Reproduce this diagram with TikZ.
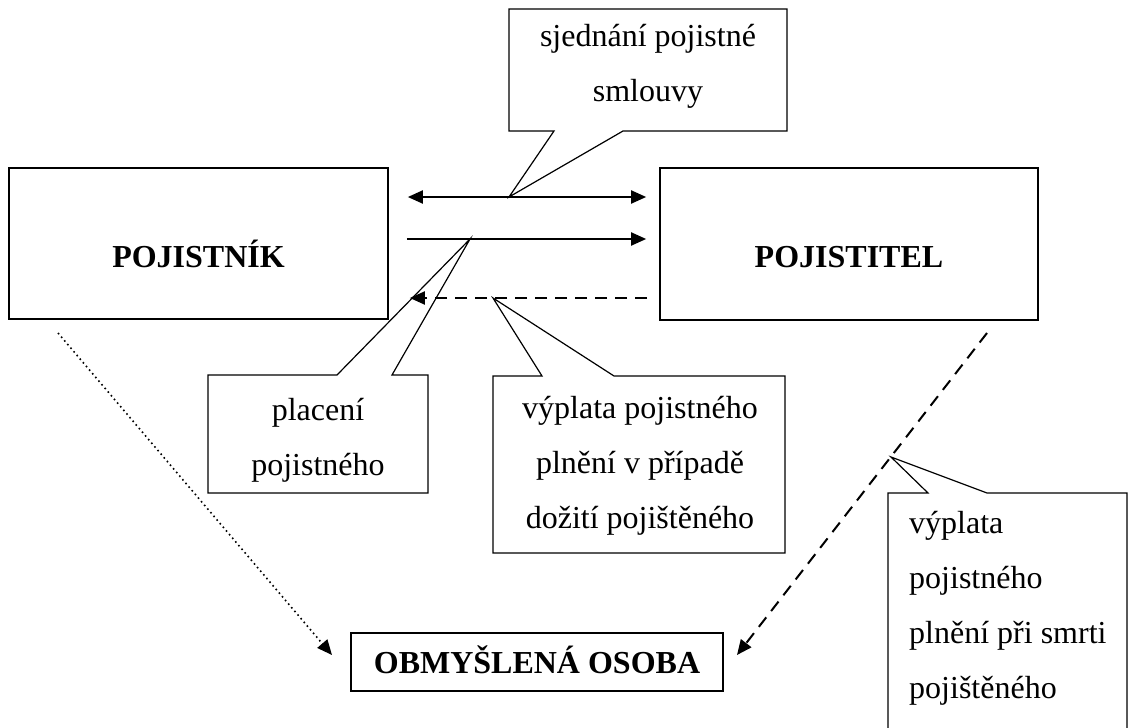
\documentclass[tikz,border=0pt]{standalone}
\usepackage{fontspec}
\setmainfont{Liberation Serif}
\usetikzlibrary{arrows.meta}
\begin{document}
\begin{tikzpicture}[x=1pt,y=-1pt,
  txt/.style={inner sep=0pt,font=\fontsize{32}{55}\selectfont},
  party/.style={draw,line width=1.7pt,inner sep=0pt,
    font=\fontsize{32}{38}\selectfont\bfseries,text depth=0pt},
  bubble/.style={draw,line width=1.2pt,fill=white,line join=miter},
  tipstyle/.style={-{Triangle[length=15pt,width=13pt]}},
  flow/.style={line width=2pt,tipstyle},
  dashflow/.style={line width=2pt,dash pattern=on 12pt off 8pt,tipstyle},
  dotflow/.style={line width=1.6pt,dash pattern=on 1.6pt off 3.2pt,tipstyle}
]
\useasboundingbox (0,0) rectangle (1128,728);

% parties
\node[party,minimum width=379pt,minimum height=151pt,text height=47pt]
  (pn) at (198.5,243.5) {POJISTNÍK};
\node[party,minimum width=378pt,minimum height=152pt,text height=46pt]
  (pt) at (849,244) {POJISTITEL};
\node[party,minimum width=372pt,minimum height=58pt,text height=22pt]
  (ob) at (537,662) {OBMYŠLENÁ OSOBA};

% points where the callouts touch the flows
\coordinate (tipA) at (509,197);
\coordinate (tipB) at (470,239);
\coordinate (tipC) at (493,298);
\coordinate (tipD) at (891,457);

% callout outlines
\draw[bubble] (509,9) -- (787,9) -- (787,131) -- (623,131) -- (tipA)
  -- (554,131) -- (509,131) -- cycle;
\draw[bubble] (208,375) -- (337,375) -- (tipB) -- (392,375) -- (428,375)
  -- (428,493) -- (208,493) -- cycle;
\draw[bubble] (493,376) -- (542,376) -- (tipC) -- (614,376) -- (785,376)
  -- (785,553) -- (493,553) -- cycle;
\draw[bubble] (888,493) -- (928,493) -- (tipD) -- (987,493) -- (1127,493)
  -- (1127,740) -- (888,740) -- cycle;

% callout texts (anchored at the baseline of their last line)
\node[txt,anchor=base,align=center] (sj) at (648,101) {sjednání pojistné\\smlouvy};
\node[txt,anchor=base,align=center] (pl) at (318,475) {placení\\pojistného};
\node[txt,anchor=base,align=center] (vd) at (640,528)
  {výplata pojistného\\plnění v případě\\dožití pojištěného};
\node[txt,anchor=base west,align=left] (vs) at (909,698)
  {výplata\\pojistného\\plnění při smrti\\pojištěného};

% flows between the parties
\draw[flow,{Triangle[length=15pt,width=13pt]}-{Triangle[length=15pt,width=13pt]},
  shorten <=19pt,shorten >=13pt] (pn.east |- tipA) -- (pt.west |- tipA);
\draw[flow,shorten <=18pt,shorten >=13pt] (pn.east |- tipB) -- (pt.west |- tipB);
\draw[dashflow,shorten <=12pt,shorten >=21pt] (pt.west |- tipC) -- (pn.east |- tipC);

% flows to the beneficiary
\coordinate (dotS) at (58,333);
\coordinate (dotE) at (332,655);
\draw[dotflow] (dotS) -- (dotE);
\coordinate (dashS) at (987,333);
\coordinate (dashE) at (737,655);
\draw[dashflow] (dashS) -- (dashE);
\end{tikzpicture}
\end{document}
